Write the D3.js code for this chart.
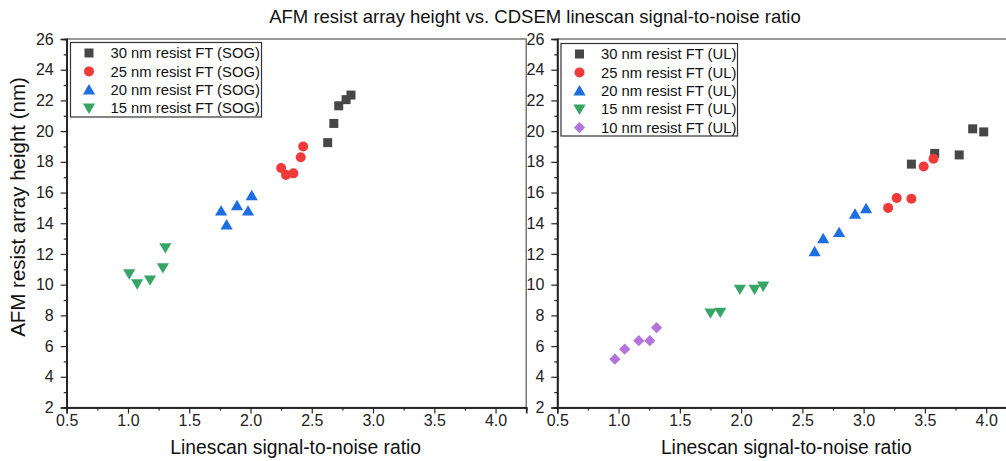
<!DOCTYPE html>
<head>
  <meta charset="utf-8">
  <script src="https://d3js.org/d3.v7.min.js"></script>
  <style>
    body { margin:0; background:#fff; }
    svg { display:block; font-family: "Liberation Sans", Arial, sans-serif; }
  </style>
</head>
<body>
<script>
// left panel (SOG) series: [snr, height]
var sog30 = [[2.63,19.25],[2.68,20.5],[2.72,21.65],[2.78,22.05],[2.82,22.35]];
var sog25 = [[2.25,17.6],[2.29,17.15],[2.35,17.25],[2.41,18.3],[2.43,19.0]];
var sog20 = [[1.76,14.8],[1.805,13.9],[1.89,15.15],[1.98,14.8],[2.01,15.8]];
var sog15 = [[1.01,10.7],[1.075,10.05],[1.18,10.3],[1.285,11.1],[1.305,12.4]];

// right panel (UL) series
var ul30 = [[3.39,17.85],[3.58,18.55],[3.78,18.45],[3.89,20.15],[3.98,19.95]];
var ul25 = [[3.20,15.0],[3.27,15.65],[3.39,15.6],[3.49,17.7],[3.57,18.2]];
var ul20 = [[2.60,12.15],[2.67,13.0],[2.80,13.4],[2.93,14.6],[3.02,14.95]];
var ul15 = [[1.75,8.15],[1.83,8.2],[1.99,9.7],[2.11,9.7],[2.18,9.9]];
var ul10 = [[0.97,5.15],[1.05,5.8],[1.165,6.35],[1.255,6.35],[1.31,7.2]];

var sogNames = ["30 nm resist FT (SOG)","25 nm resist FT (SOG)","20 nm resist FT (SOG)","15 nm resist FT (SOG)"];
var ulNames = ["30 nm resist FT (UL)","25 nm resist FT (UL)","20 nm resist FT (UL)","15 nm resist FT (UL)","10 nm resist FT (UL)"];

var xTicks = [0.5,1.0,1.5,2.0,2.5,3.0,3.5,4.0];
var yTicks = [2,4,6,8,10,12,14,16,18,20,22,24,26];

var colors = ["#474747","#f03a3a","#1d6ee0","#36a566","#b274dc"];
var shapes = ["square","circle","up","down","diamond"];

var width = 1006, height = 461;
var svg = d3.select("body").append("svg").attr("width", width).attr("height", height);

svg.append("text").attr("x", 535).attr("y", 23).attr("text-anchor","middle")
  .style("font-size","18.5px").attr("fill","#111")
  .text("AFM resist array height vs. CDSEM linescan signal-to-noise ratio");

svg.append("text").attr("transform","translate(25,207) rotate(-90)")
  .attr("text-anchor","middle").style("font-size","20.5px").attr("fill","#111")
  .text("AFM resist array height (nm)");

function marker(g, shape, color, x, y) {
  if (shape == "square") {
    g.append("rect").attr("x", x-4.5).attr("y", y-4.5).attr("width",9).attr("height",9).attr("fill",color);
  } else if (shape == "circle") {
    g.append("circle").attr("cx",x).attr("cy",y).attr("r",5).attr("fill",color);
  } else if (shape == "up") {
    g.append("path").attr("d","M"+x+","+(y-5.8)+"L"+(x+6.1)+","+(y+4.6)+"L"+(x-6.1)+","+(y+4.6)+"Z").attr("fill",color);
  } else if (shape == "down") {
    g.append("path").attr("d","M"+x+","+(y+5.8)+"L"+(x+6.1)+","+(y-4.6)+"L"+(x-6.1)+","+(y-4.6)+"Z").attr("fill",color);
  } else {
    g.append("path").attr("d","M"+x+","+(y-5.6)+"L"+(x+5.6)+","+y+"L"+x+","+(y+5.6)+"L"+(x-5.6)+","+y+"Z").attr("fill",color);
  }
}

function panel(left, series, names, legBox) {
  var top = 39, bottom = 407.5, right = left + 459.5;
  var x = d3.scaleLinear().domain([0.5,4.25]).range([left,right]);
  var y = d3.scaleLinear().domain([2,26]).range([bottom,top]);
  var g = svg.append("g");

  // frame
  g.append("rect").attr("x",left).attr("y",top).attr("width",right-left).attr("height",bottom-top)
    .attr("fill","none").attr("stroke","#555").attr("stroke-width",1.2);

  // minor ticks
  var xAxisMinor = d3.axisBottom(x).tickValues(d3.range(0.75,4.3,0.5)).tickSize(3).tickFormat("");
  var yAxisMinor = d3.axisLeft(y).tickValues(d3.range(3,26,2)).tickSize(3).tickFormat("");
  g.append("g").attr("transform","translate(0,"+bottom+")").call(xAxisMinor);
  g.append("g").attr("transform","translate("+left+",0)").call(yAxisMinor);

  var xAxis = d3.axisBottom(x).tickValues(xTicks).tickSize(6).tickPadding(0.8).tickFormat(d3.format(".1f"));
  var yAxis = d3.axisLeft(y).tickValues(yTicks).tickSize(6).tickPadding(7).tickFormat(d3.format("d"));
  g.append("g").attr("transform","translate(0,"+bottom+")").call(xAxis);
  g.append("g").attr("transform","translate("+left+",0)").call(yAxis);

  g.selectAll(".domain").attr("stroke","#222").attr("stroke-width",1.6);
  g.selectAll(".tick line").attr("stroke","#222").attr("stroke-width",1.2);
  g.selectAll(".tick text").style("font-size","16px").attr("fill","#222").style("font-family","Liberation Sans, Arial, sans-serif");

  g.append("text").attr("x",left+229).attr("y",454).attr("text-anchor","middle")
    .style("font-size","19.3px").attr("fill","#111").text("Linescan signal-to-noise ratio");

  // points
  series.forEach(function(s, i) {
    s.forEach(function(d) { marker(g, shapes[i], colors[i], x(d[0]), y(d[1])); });
  });

  // legend
  var lg = svg.append("g");
  lg.append("rect").attr("x",legBox[0]).attr("y",legBox[1]).attr("width",legBox[2]).attr("height",legBox[3])
    .attr("fill","#fff").attr("stroke","#333").attr("stroke-width",1.2);
  names.forEach(function(n, i) {
    var yy = legBox[1] + 10.5 + i*18.4;
    marker(lg, shapes[i], colors[i], legBox[0]+18.5, yy);
    lg.append("text").attr("x",legBox[0]+40).attr("y",yy+5.2).style("font-size","14.8px").attr("fill","#111").text(n);
  });
}

panel(66.7, [sog30,sog25,sog20,sog15], sogNames, [70.5,42.5,191,74.5]);
panel(557.3, [ul30,ul25,ul20,ul15,ul10], ulNames, [561,43.5,176.5,92.5]);
</script>
</body>
</html>
